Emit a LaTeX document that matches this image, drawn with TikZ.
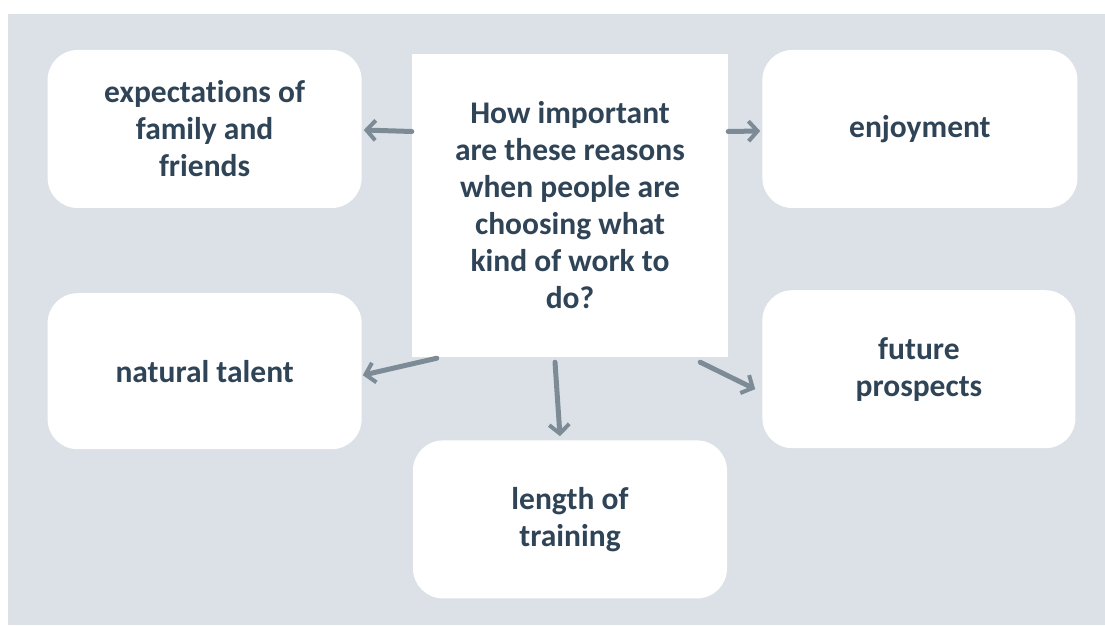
\documentclass[tikz,border=0pt]{standalone}
\usepackage{fontspec}
\setmainfont{Carlito}[Ligatures=NoCommon]
\usepackage{xcolor}
\usepackage{tikz}
\usetikzlibrary{positioning, arrows.meta}

\definecolor{bggray}{HTML}{DCE1E8}
\definecolor{arrowgray}{HTML}{7D8B96}
\definecolor{textslate}{HTML}{2F4457}

\begin{document}
\begin{tikzpicture}
    % Define styles
    \tikzset{
        every node/.style={font=\bfseries\fontsize{31.5}{37}\selectfont, text=textslate},
        question/.style={rectangle, fill=white, align=center, minimum width=316pt, minimum height=303pt},
        reason/.style={rectangle, fill=white, rounded corners=30pt, align=center, minimum width=314pt, minimum height=158pt},
        arrow/.style={-{Straight Barb[length=9pt, width=20pt, line width=4pt]}, line width=5pt, draw=arrowgray, line cap=round}
    }

    % Background
    \useasboundingbox (0,0) rectangle (1105pt,625pt);
    \fill[bggray] (8pt,0) rectangle (1105pt,611pt);

    % Question in the middle
    \node (q) [question] at (570pt,419.5pt) {How important\\are these reasons\\when people are\\choosing what\\kind of work to\\do?};

    % Reasons around it
    \node (expect) [reason, left=50pt of q.north west, anchor=north east, yshift=4pt] {expectations of\\family and\\friends};
    \node (enjoy) [reason, right=34pt of q.north east, anchor=north west, yshift=4pt, minimum width=315pt] {enjoyment};
    \node (talent) [reason, left=50pt of q.south west, anchor=east, yshift=-14pt, minimum height=156pt] {natural talent};
    \node (future) [reason, right=34pt of q.south east, anchor=west, yshift=-12pt, minimum width=313pt] {future\\prospects};
    \node (train) [reason, below=83pt of q] {length of\\training};

    % Arrows from the question
    \draw [arrow] ([yshift=74pt]q.west) -- ([xshift=2pt, yshift=-1pt]expect.east);
    \draw [arrow] ([yshift=74pt]q.east) -- ([xshift=-2pt, yshift=-2pt]enjoy.west);
    \draw [arrow] ([xshift=25pt, yshift=-1pt]q.south west) -- ([xshift=1pt, yshift=-4pt]talent.east);
    \draw [arrow] ([xshift=-15pt, yshift=-5pt]q.south) -- ([xshift=-10pt, yshift=4pt]train.north);
    \draw [arrow] ([xshift=-28pt, yshift=-5pt]q.south east) -- ([xshift=-7pt, yshift=-20pt]future.west);

\end{tikzpicture}
\end{document}
